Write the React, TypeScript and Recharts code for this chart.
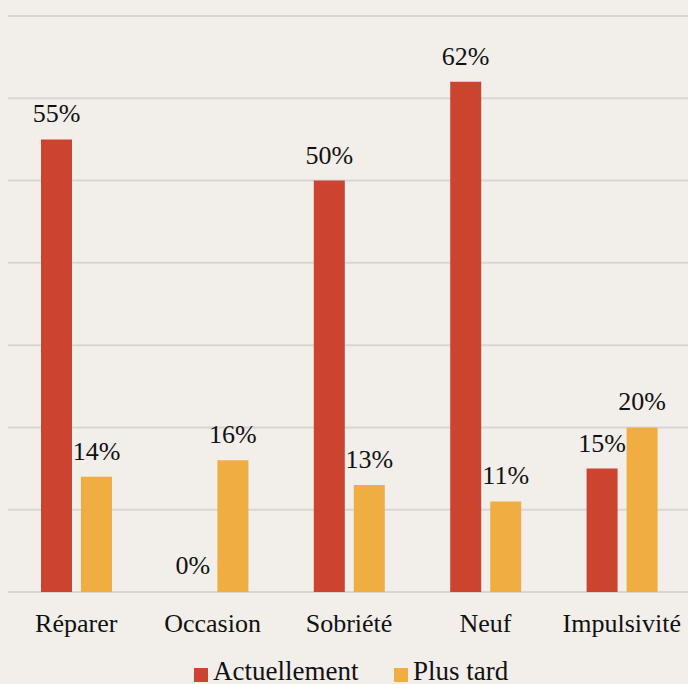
import React from 'react';
import { BarChart, Bar, XAxis, YAxis, CartesianGrid, LabelList, Rectangle } from 'recharts';

const CATEGORIES = ['Réparer', 'Occasion', 'Sobriété', 'Neuf', 'Impulsivité'];
const ACTUELLEMENT = [55, 0, 50, 62, 15];
const PLUS_TARD = [14, 16, 13, 11, 20];
const Y_TICKS = [0, 10, 20, 30, 40, 50, 60, 70];
const SERIES = [
  { name: 'Actuellement', color: '#cc4330', left: 194 },
  { name: 'Plus tard', color: '#f0ad42', left: 394 },
];

const BG = '#f2eeea';
const FONT = 'Liberation Serif, DejaVu Serif, serif';

const data = CATEGORIES.map((name, i) => ({
  name,
  actuellement: ACTUELLEMENT[i],
  plusTard: PLUS_TARD[i],
}));

const pct = (v: any) => `${v}%`;

// zero-height bars still need their "0%" label, so draw nothing but keep the slot
const barShape = (key: string) => (props: any) =>
  props.payload && props.payload[key] === 0 ? <g /> : <Rectangle {...props} />;

const labelStyle = { fill: '#111', fontSize: 26, fontFamily: FONT };

export default function App() {
  return (
    <div
      style={{
        position: 'absolute',
        left: 0,
        top: 0,
        width: 688,
        height: 684,
        overflow: 'hidden',
        background: BG,
        fontFamily: FONT,
      }}
    >
      <BarChart
        width={690}
        height={684}
        data={data}
        margin={{ top: 16, right: 0, left: 8, bottom: 52 }}
        barSize={31}
        barGap={9}
      >
        <CartesianGrid vertical={false} stroke="#d8d6d4" strokeWidth={2} />
        <YAxis hide domain={[0, 70]} ticks={Y_TICKS} />
        <XAxis
          dataKey="name"
          axisLine={false}
          tickLine={false}
          tickSize={0}
          tickMargin={22}
          height={40}
          interval={0}
          tick={{ fill: '#111', fontSize: 26, fontFamily: FONT }}
        />
        <Bar
          dataKey="actuellement"
          fill={SERIES[0].color}
          minPointSize={1}
          shape={barShape('actuellement')}
          isAnimationActive={false}
        >
          <LabelList dataKey="actuellement" position="top" offset={17} formatter={pct} style={labelStyle} />
        </Bar>
        <Bar dataKey="plusTard" fill={SERIES[1].color} isAnimationActive={false}>
          <LabelList dataKey="plusTard" position="top" offset={17} formatter={pct} style={labelStyle} />
        </Bar>
      </BarChart>

      {/* legend */}
      {SERIES.map((s) => (
        <React.Fragment key={s.name}>
          <span
            style={{ position: 'absolute', left: s.left, top: 668, width: 14, height: 14, background: s.color }}
          />
          <span
            style={{
              position: 'absolute',
              left: s.left + 19,
              top: 658,
              fontSize: 27,
              lineHeight: '27px',
              color: '#111',
              whiteSpace: 'nowrap',
            }}
          >
            {s.name}
          </span>
        </React.Fragment>
      ))}
    </div>
  );
}
